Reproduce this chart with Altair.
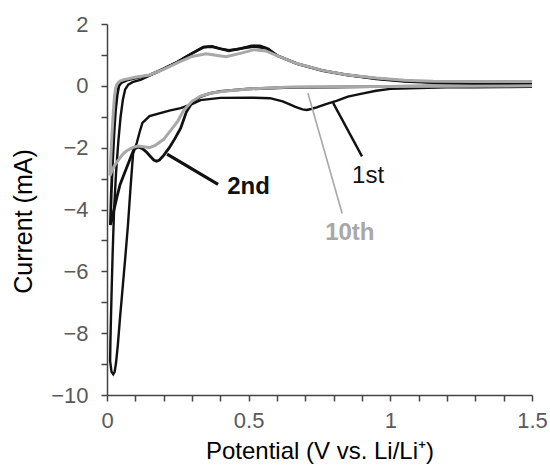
import altair as alt
import pandas as pd

# ---- cycle 1 (cathodic 1.5 -> 0.01 V, then anodic back to 1.5 V) ----
c1_v = [1.5, 1.4, 1.3, 1.2, 1.1, 1.0, 0.95, 0.9, 0.85, 0.81, 0.77, 0.74, 0.72, 0.705, 0.69, 0.665, 0.645, 0.62, 0.575, 0.5, 0.4, 0.33, 0.3, 0.26, 0.22, 0.15, 0.125, 0.115, 0.105, 0.092, 0.083, 0.074, 0.065, 0.056, 0.046, 0.038, 0.032, 0.027, 0.022, 0.016, 0.011,
        0.012, 0.014, 0.017, 0.02, 0.025, 0.032, 0.04, 0.048, 0.056, 0.064, 0.075, 0.09, 0.12, 0.15, 0.18, 0.21, 0.25, 0.28, 0.31, 0.34, 0.37, 0.4, 0.43, 0.47, 0.51, 0.54, 0.57, 0.6, 0.67, 0.76, 0.85, 0.95, 1.05, 1.15, 1.3, 1.5]
c1_i = [-0.03, -0.04, -0.05, -0.05, -0.07, -0.1, -0.16, -0.25, -0.35, -0.49, -0.6, -0.7, -0.75, -0.78, -0.76, -0.68, -0.6, -0.5, -0.4, -0.38, -0.39, -0.46, -0.59, -0.72, -0.8, -0.98, -1.2, -1.5, -1.85, -2.2, -3.3, -4.5, -5.5, -6.45, -7.5, -8.4, -8.95, -9.25, -9.33, -9.25, -8.9,
        -8.3, -7.5, -6.4, -5.4, -4.0, -2.8, -1.8, -1.0, -0.45, -0.12, 0.04, 0.12, 0.2, 0.33, 0.45, 0.6, 0.78, 0.95, 1.1, 1.25, 1.28, 1.2, 1.15, 1.2, 1.3, 1.3, 1.2, 0.98, 0.72, 0.5, 0.35, 0.22, 0.14, 0.1, 0.08, 0.07]

# ---- cycle 2 ----
c2_v = [1.5, 1.2, 1.0, 0.8, 0.65, 0.5, 0.4, 0.36, 0.33, 0.3, 0.28, 0.26, 0.24, 0.22, 0.2, 0.185, 0.175, 0.165, 0.155, 0.14, 0.125, 0.11, 0.095, 0.08, 0.065, 0.046, 0.035, 0.025, 0.018, 0.012,
        0.015, 0.02, 0.025, 0.03, 0.036, 0.042, 0.05, 0.07, 0.1, 0.15, 0.2, 0.25, 0.3, 0.34, 0.37, 0.4, 0.43, 0.48, 0.52, 0.56, 0.6, 0.67, 0.76, 0.85, 0.95, 1.05, 1.15, 1.3, 1.5]
c2_i = [0.03, 0.0, -0.02, -0.04, -0.05, -0.1, -0.18, -0.25, -0.35, -0.55, -0.85, -1.37, -1.7, -2.0, -2.25, -2.4, -2.44, -2.4, -2.3, -2.15, -2.03, -1.98, -2.05, -2.4, -2.75, -3.2, -3.6, -4.0, -4.3, -4.5,
        -3.5, -2.4, -1.5, -0.8, -0.3, 0.0, 0.1, 0.18, 0.25, 0.35, 0.55, 0.78, 1.05, 1.25, 1.27, 1.2, 1.13, 1.22, 1.28, 1.22, 0.98, 0.72, 0.49, 0.35, 0.24, 0.16, 0.12, 0.1, 0.08]

# ---- cycle 10 ----
c10_v = [1.5, 1.2, 1.0, 0.8, 0.65, 0.5, 0.42, 0.37, 0.33, 0.3, 0.27, 0.25, 0.22, 0.2, 0.17, 0.15, 0.13, 0.11, 0.09, 0.07, 0.057, 0.04, 0.025, 0.015, 0.011,
         0.014, 0.018, 0.022, 0.026, 0.03, 0.035, 0.045, 0.06, 0.1, 0.15, 0.2, 0.25, 0.3, 0.35, 0.39, 0.42, 0.47, 0.52, 0.56, 0.6, 0.67, 0.76, 0.85, 0.95, 1.05, 1.15, 1.3, 1.5]
c10_i = [0.0, -0.01, -0.02, -0.03, -0.04, -0.1, -0.17, -0.23, -0.33, -0.5, -0.8, -1.14, -1.5, -1.73, -1.93, -2.0, -1.97, -1.95, -2.0, -2.1, -2.2, -2.4, -2.6, -2.8, -2.9,
         -2.2, -1.5, -0.9, -0.4, -0.1, 0.05, 0.15, 0.2, 0.28, 0.35, 0.53, 0.75, 0.95, 1.04, 0.98, 0.94, 1.05, 1.17, 1.13, 0.98, 0.72, 0.5, 0.35, 0.25, 0.18, 0.15, 0.14, 0.14]

# ---- axis ticks ----
x_ticks = [round(0.1 * k, 1) for k in range(16)]
y_ticks = list(range(-10, 3))

# ---- annotations: leader lines and labels ----
lead_name = ["2nd", "1st", "10th"]
lead_x1 = [0.212, 0.798, 0.709]
lead_y1 = [-2.21, -0.55, -0.23]
lead_x2 = [0.392, 0.900, 0.830]
lead_y2 = [-3.19, -2.28, -4.13]
lab_x = [0.424, 0.865, 0.770]
lab_y = [-3.51, -3.15, -4.98]


def frame(v, i):
    return pd.DataFrame({"v": v, "i": i, "k": list(range(len(v)))})


x_scale = alt.Scale(domain=[0, 1.5], nice=False, zero=False)
y_scale = alt.Scale(domain=[-10, 2], nice=False, zero=False)

x_axis = alt.Axis(values=x_ticks,
                  labelExpr="datum.value == 0 ? '0' : datum.value == 0.5 ? '0.5' : datum.value == 1 ? '1' : datum.value == 1.5 ? '1.5' : ''",
                  labelOverlap=False, labelFlush=False, labelBound=False, labelPadding=9,
                  title="Potential (V vs. Li/Li\u207a)", titlePadding=8, titleFontSize=24)
y_axis = alt.Axis(values=y_ticks,
                  labelExpr="datum.value % 2 == 0 ? replace(toString(datum.value), '-', '\u2212') : ''",
                  labelOverlap=False, labelFlush=False, labelBound=False, labelPadding=13,
                  title="Current (mA)", titlePadding=14, titleY=197, titleFontSize=25)


def X(field):
    return alt.X(field, scale=x_scale, axis=x_axis)


def Y(field):
    return alt.Y(field, scale=y_scale, axis=y_axis)


black = "#111111"
gray = "#a8a8a8"

l1 = alt.Chart(frame(c1_v, c1_i)).mark_line(color=black, strokeWidth=2.4).encode(x=X("v:Q"), y=Y("i:Q"), order="k:Q")
l2 = alt.Chart(frame(c2_v, c2_i)).mark_line(color=black, strokeWidth=2.8).encode(x=X("v:Q"), y=Y("i:Q"), order="k:Q")
l10 = alt.Chart(frame(c10_v, c10_i)).mark_line(color=gray, strokeWidth=3).encode(x=X("v:Q"), y=Y("i:Q"), order="k:Q")

leads = pd.DataFrame({"name": lead_name, "x1": lead_x1, "y1": lead_y1, "x2": lead_x2, "y2": lead_y2,
                      "lx": lab_x, "ly": lab_y})

rule_color = alt.Color("name:N", scale=alt.Scale(domain=lead_name, range=[black, black, gray]), legend=None)
rule_w = alt.StrokeWidth("name:N", scale=alt.Scale(domain=lead_name, range=[3.2, 1.6, 3.4]), legend=None)

rules = alt.Chart(leads).mark_rule().encode(
    x=X("x1:Q"), y=Y("y1:Q"), x2="x2:Q", y2="y2:Q", color=rule_color, strokeWidth=rule_w)

t_bold = alt.Chart(leads[leads["name"] != "1st"]).mark_text(
    align="left", baseline="alphabetic", font="Liberation Sans", fontSize=24, fontWeight="bold").encode(
    x=X("lx:Q"), y=Y("ly:Q"), text="name:N", color=rule_color)
t_norm = alt.Chart(leads[leads["name"] == "1st"]).mark_text(
    align="left", baseline="alphabetic", font="Liberation Sans", fontSize=24, color=black).encode(
    x=X("lx:Q"), y=Y("ly:Q"), text="name:N")

chart = alt.layer(l1, l2, l10, rules, t_bold, t_norm).properties(
    width=425, height=371,
    padding={"left": 107, "top": 24, "right": 18, "bottom": 72},
    autosize=alt.AutoSizeParams(type="none"),
    background="white",
).configure_view(stroke=None).configure_axis(
    grid=False, labelOverlap=False,
    domainColor="#444444", domainWidth=1.5,
    tickColor="#444444", tickWidth=1.5, tickSize=6,
    labelColor="#5a5a5a", labelFont="Liberation Sans", labelFontSize=22,
    titleColor="#000000", titleFont="Liberation Sans", titleFontWeight="normal",
)

chart.save("out.html", embed_options={"renderer": "svg", "actions": False})
